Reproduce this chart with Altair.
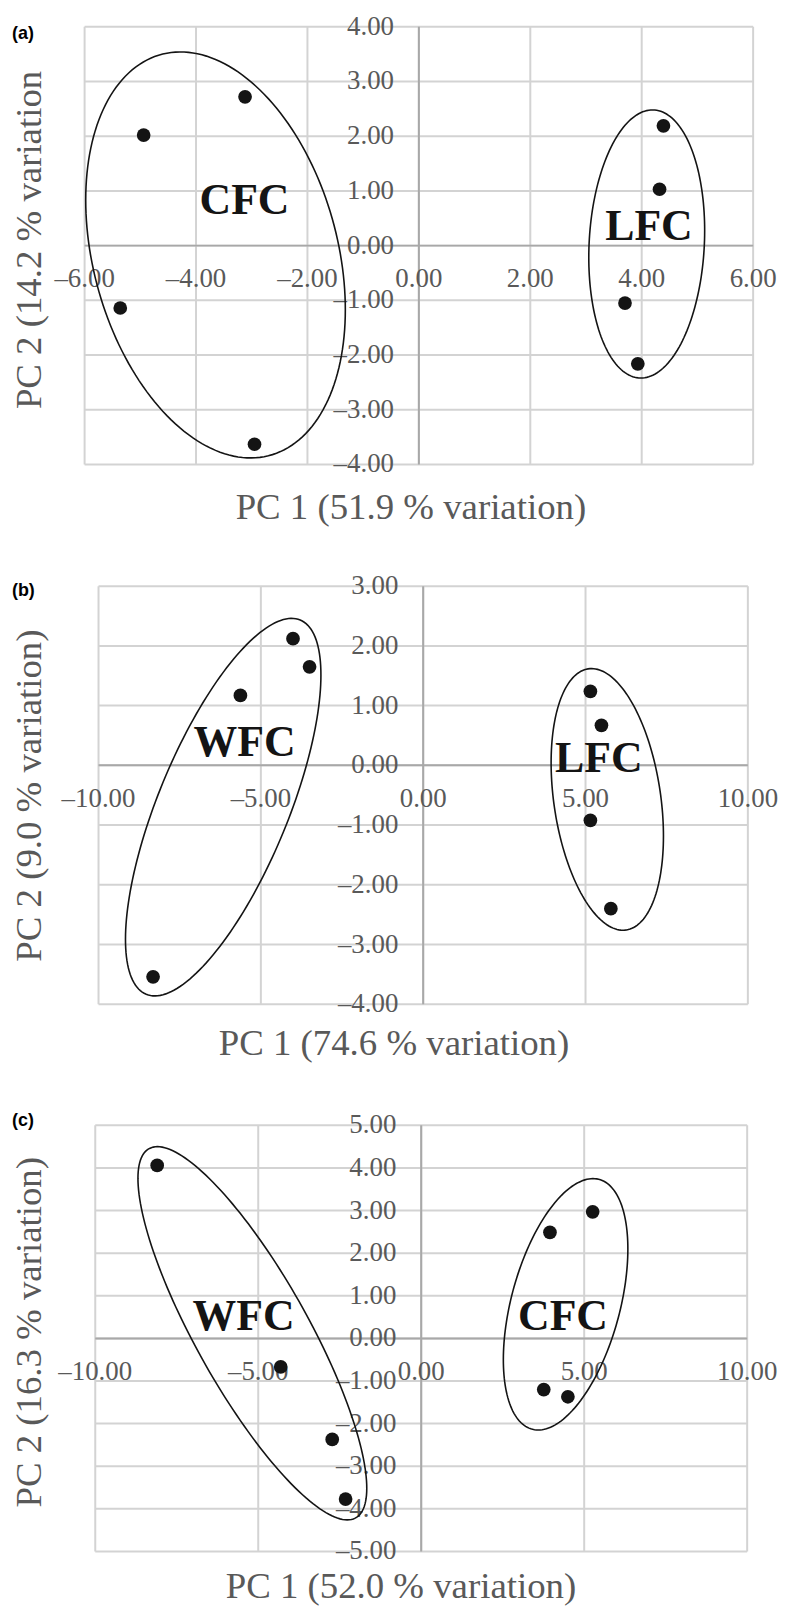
import altair as alt
import numpy as np
import pandas as pd

# ---------------- data ----------------
# Panel (a)
a_cfc_x = [-4.94, -3.12, -5.36, -2.95]
a_cfc_y = [2.02, 2.72, -1.14, -3.63]
a_lfc_x = [4.39, 4.32, 3.70, 3.93]
a_lfc_y = [2.19, 1.03, -1.05, -2.16]
a_xticks = [-6, -4, -2, 0, 2, 4, 6]
a_yticks = [-4, -3, -2, -1, 0, 1, 2, 3, 4]
a_xtitle = "PC 1 (51.9 % variation)"
a_ytitle = "PC 2 (14.2 % variation"
a_groups = ["CFC", "LFC"]
a_group_x = [-3.13, 4.13]
a_group_y = [0.82, 0.34]
# ellipse: centre x, centre y, half-width, half-height, tilt (cos of phase)
a_ell_cfc = [-3.65, -0.17, 2.33, 3.71, -0.27]
a_ell_lfc = [4.09, 0.03, 1.04, 2.45, 0.10]

# Panel (b)
b_wfc_x = [-4.01, -3.50, -5.63, -8.32]
b_wfc_y = [2.12, 1.65, 1.17, -3.54]
b_lfc_x = [5.15, 5.49, 5.15, 5.78]
b_lfc_y = [1.24, 0.67, -0.92, -2.40]
b_xticks = [-10, -5, 0, 5, 10]
b_yticks = [-4, -3, -2, -1, 0, 1, 2, 3]
b_xtitle = "PC 1 (74.6 % variation)"
b_ytitle = "PC 2 (9.0 % variation)"
b_groups = ["WFC", "LFC"]
b_group_x = [-5.50, 5.41]
b_group_y = [0.37, 0.11]
b_ell_wfc = [-6.16, -0.70, 3.01, 3.16, 0.70]
b_ell_lfc = [5.67, -0.57, 1.73, 2.19, -0.28]

# Panel (c)
c_wfc_x = [-8.10, -4.31, -2.73, -2.32]
c_wfc_y = [4.06, -0.67, -2.37, -3.77]
c_cfc_x = [3.95, 5.26, 3.76, 4.50]
c_cfc_y = [2.49, 2.97, -1.20, -1.37]
c_xticks = [-10, -5, 0, 5, 10]
c_yticks = [-5, -4, -3, -2, -1, 0, 1, 2, 3, 4, 5]
c_xtitle = "PC 1 (52.0 % variation)"
c_ytitle = "PC 2 (16.3 % variation)"
c_groups = ["WFC", "CFC"]
c_group_x = [-5.45, 4.35]
c_group_y = [0.50, 0.50]
c_ell_wfc = [-5.18, 0.12, 3.51, 4.38, -0.83]
c_ell_cfc = [4.43, 0.80, 1.91, 2.95, 0.44]

panel_letters = ["(a)", "(b)", "(c)"]

# ---------------- styling ----------------
SERIF = "Liberation Serif"
SANS = "Liberation Sans"
GREY_TXT = "#595959"
GRID = "#d3d3d3"
ZERO = "#a8a8a8"
INK = "#141414"
W = 771


def fmt(v):
    s = f"{abs(v):.2f}"
    return ("\u2013" + s) if v < 0 else s


def ellipse_df(params, name):
    cx, cy, rx, ry, c = params
    d = np.arccos(c)
    t = np.linspace(0, 2 * np.pi, 181)
    return pd.DataFrame({"ex": cx + rx * np.cos(t), "ey": cy + ry * np.cos(t - d),
                         "grp": name, "i": np.arange(len(t))})


def panel(letter, groups_pts, xticks, yticks, xrange_px, yrange_px, ells, gnames, gx, gy,
          xtitle, ytitle, letter_y, xtitle_pos, ytitle_pos, height):
    xmin, xmax = xticks[0], xticks[-1]
    ymin, ymax = yticks[0], yticks[-1]
    xs = alt.Scale(domain=[xmin, xmax], range=xrange_px, nice=False, zero=False)
    ys = alt.Scale(domain=[ymin, ymax], range=yrange_px, nice=False, zero=False)

    def X(f):
        return alt.X(f, type="quantitative", scale=xs, axis=None)

    def Y(f):
        return alt.Y(f, type="quantitative", scale=ys, axis=None)

    vgrid = pd.DataFrame({"gx": xticks, "gy1": ymin, "gy2": ymax})
    hgrid = pd.DataFrame({"gy": yticks, "gx1": xmin, "gx2": xmax})
    vg = alt.Chart(vgrid).mark_rule(color=GRID, strokeWidth=2).encode(
        x=X("gx"), y=Y("gy1"), y2="gy2")
    hg = alt.Chart(hgrid).mark_rule(color=GRID, strokeWidth=2).encode(
        y=Y("gy"), x=X("gx1"), x2="gx2")
    zv = alt.Chart(pd.DataFrame({"gx": [0], "gy1": [ymin], "gy2": [ymax]})).mark_rule(
        color=ZERO, strokeWidth=2).encode(x=X("gx"), y=Y("gy1"), y2="gy2")
    zh = alt.Chart(pd.DataFrame({"gy": [0], "gx1": [xmin], "gx2": [xmax]})).mark_rule(
        color=ZERO, strokeWidth=2).encode(y=Y("gy"), x=X("gx1"), x2="gx2")

    xl = pd.DataFrame({"v": xticks, "z": 0, "lab": [fmt(v) for v in xticks]})
    yl = pd.DataFrame({"v": yticks, "z": 0, "lab": [fmt(v) for v in yticks]})
    xlab = alt.Chart(xl).mark_text(font=SERIF, fontSize=27, color=GREY_TXT, dy=34,
                                   align="center", baseline="middle").encode(
        x=X("v"), y=Y("z"), text="lab")
    ylab = alt.Chart(yl).mark_text(font=SERIF, fontSize=27, color=GREY_TXT, dx=-25,
                                   align="right", baseline="middle").encode(
        x=X("z"), y=Y("v"), text="lab")

    edf = pd.concat([ellipse_df(p, n) for p, n in zip(ells, gnames)], ignore_index=True)
    ell = alt.Chart(edf).mark_line(color=INK, strokeWidth=1.6).encode(
        x=X("ex"), y=Y("ey"), detail="grp:N", order="i:Q")

    pts = pd.concat([pd.DataFrame({"px": px, "py": py, "g": n})
                     for (px, py), n in zip(groups_pts, gnames)], ignore_index=True)
    dots = alt.Chart(pts).mark_circle(size=190, color=INK, opacity=1).encode(
        x=X("px"), y=Y("py"))

    gl = pd.DataFrame({"gx": gx, "gy": gy, "name": gnames})
    glab = alt.Chart(gl).mark_text(font=SERIF, fontSize=44, fontWeight="bold", color=INK,
                                   align="center", baseline="middle").encode(
        x=X("gx"), y=Y("gy"), text="name")

    t1 = alt.Chart(pd.DataFrame({"t": [xtitle]})).mark_text(
        font=SERIF, fontSize=37, color=GREY_TXT, align="center", baseline="alphabetic").encode(
        x=alt.value(xtitle_pos[0]), y=alt.value(xtitle_pos[1]), text="t")
    t2 = alt.Chart(pd.DataFrame({"t": [ytitle]})).mark_text(
        font=SERIF, fontSize=37, color=GREY_TXT, align="center", baseline="alphabetic",
        angle=270).encode(
        x=alt.value(ytitle_pos[0]), y=alt.value(ytitle_pos[1]), text="t")
    t3 = alt.Chart(pd.DataFrame({"t": [letter]})).mark_text(
        font=SANS, fontSize=18, fontWeight="bold", color="#000000", align="left",
        baseline="middle").encode(
        x=alt.value(4), y=alt.value(letter_y), text="t")

    return alt.layer(vg, hg, zv, zh, xlab, ylab, ell, dots, glab, t1, t2, t3).properties(
        width=W, height=height)


pa = panel(panel_letters[0], [(a_cfc_x, a_cfc_y), (a_lfc_x, a_lfc_y)], a_xticks, a_yticks,
           [77, 749], [452.7, 12.7], [a_ell_cfc, a_ell_lfc], a_groups, a_group_x, a_group_y,
           a_xtitle, a_ytitle, 20.5, (405, 507), (33, 227), 537)
pb = panel(panel_letters[1], [(b_wfc_x, b_wfc_y), (b_lfc_x, b_lfc_y)], b_xticks, b_yticks,
           [91, 743.7], [458.3, 38], [b_ell_wfc, b_ell_lfc], b_groups, b_group_x, b_group_y,
           b_xtitle, b_ytitle, 43, (388, 509), (33, 248.5), 530)
pc = panel(panel_letters[2], [(c_wfc_x, c_wfc_y), (c_cfc_x, c_cfc_y)], c_xticks, c_yticks,
           [87.7, 743], [478.3, 50], [c_ell_wfc, c_ell_cfc], c_groups, c_group_x, c_group_y,
           c_xtitle, c_ytitle, 46, (395, 525), (33, 258), 520)

chart = alt.vconcat(pa, pb, pc, spacing=0, bounds="flush").properties(
    padding=0
).configure_view(strokeWidth=0)

chart.save("out.html", embed_options={"renderer": "svg", "actions": False})
